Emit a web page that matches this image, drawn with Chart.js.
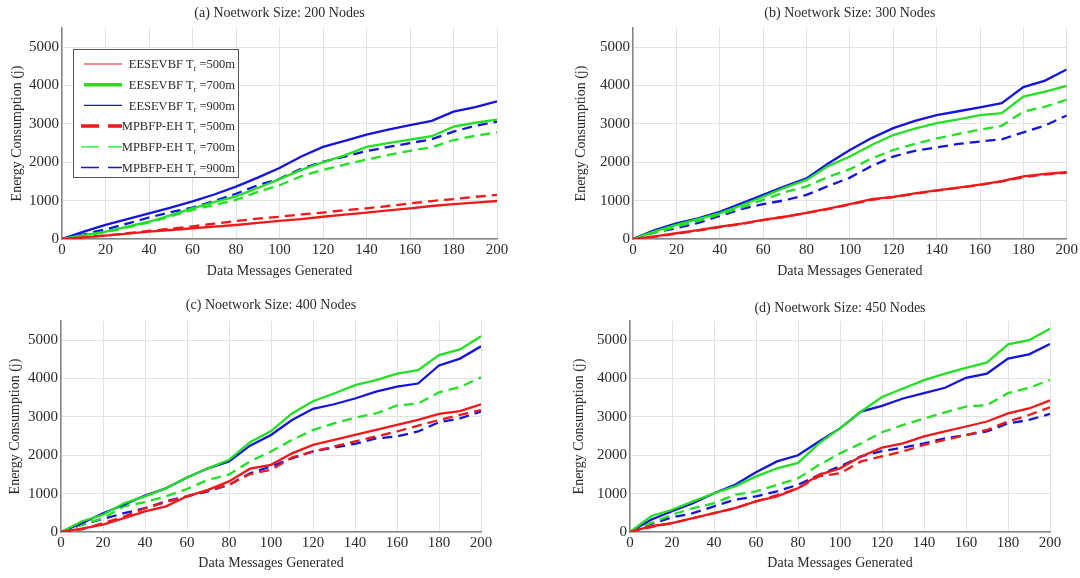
<!DOCTYPE html>
<html>
<head>
<meta charset="utf-8">
<script src="https://cdn.jsdelivr.net/npm/chart.js@4.4.0/dist/chart.umd.min.js"></script>
<style>
  body { margin: 0; background: #fff; }
  #wrap { position: relative; width: 1080px; height: 578px; overflow: hidden; }
  canvas { position: absolute; }
</style>
</head>
<body>
<div id="wrap">
  <canvas id="chartA" width="540" height="290" style="left:0;top:0"></canvas>
  <canvas id="chartB" width="520" height="290" style="left:560px;top:0"></canvas>
  <canvas id="chartC" width="540" height="288" style="left:0;top:290px"></canvas>
  <canvas id="chartD" width="540" height="288" style="left:540px;top:290px"></canvas>
</div>
<script>
// messages generated (x axis), one reading every 10 messages
const msgs = [0, 10, 20, 30, 40, 50, 60, 70, 80, 90, 100, 110, 120, 130, 140, 150, 160, 170, 180, 190, 200];
const energyTicks = [0, 1000, 2000, 3000, 4000, 5000];

// (a) 200 nodes
const a_ees500 = [0, 40, 90, 140, 190, 235, 280, 320, 365, 420, 470, 520, 580, 635, 690, 745, 800, 860, 910, 950, 990];
const a_ees700 = [0, 100, 190, 320, 450, 620, 800, 960, 1110, 1330, 1560, 1800, 2000, 2180, 2400, 2500, 2590, 2680, 2930, 3030, 3110];
const a_ees900 = [0, 190, 370, 520, 670, 820, 980, 1160, 1365, 1600, 1850, 2150, 2400, 2560, 2720, 2850, 2970, 3080, 3320, 3440, 3590];
const a_mpb500 = [0, 45, 90, 150, 210, 270, 330, 400, 470, 530, 580, 640, 690, 750, 800, 860, 930, 990, 1040, 1100, 1150];
const a_mpb700 = [0, 90, 175, 300, 430, 590, 760, 890, 1020, 1230, 1400, 1640, 1800, 1940, 2070, 2190, 2300, 2390, 2580, 2690, 2780];
const a_mpb900 = [0, 120, 250, 400, 560, 700, 820, 990, 1180, 1400, 1570, 1830, 2010, 2150, 2290, 2400, 2500, 2600, 2800, 2950, 3060];

// (b) 300 nodes
const b_ees500 = [0, 70, 150, 230, 320, 400, 500, 580, 680, 790, 910, 1040, 1100, 1190, 1270, 1340, 1420, 1510, 1630, 1700, 1740];
const b_ees700 = [0, 200, 370, 520, 670, 880, 1100, 1340, 1540, 1900, 2150, 2450, 2710, 2880, 3020, 3120, 3230, 3280, 3710, 3840, 3990];
const b_ees900 = [0, 230, 410, 540, 710, 930, 1150, 1370, 1580, 1970, 2320, 2630, 2890, 3080, 3230, 3330, 3430, 3540, 3960, 4130, 4420];
const b_mpb500 = [0, 60, 140, 220, 310, 390, 490, 580, 680, 780, 900, 1020, 1090, 1180, 1260, 1330, 1410, 1500, 1610, 1680, 1730];
const b_mpb700 = [0, 170, 320, 470, 640, 820, 1020, 1220, 1370, 1620, 1820, 2100, 2320, 2480, 2620, 2740, 2850, 2950, 3320, 3450, 3630];
const b_mpb900 = [0, 170, 280, 420, 600, 780, 910, 1010, 1150, 1380, 1600, 1900, 2150, 2300, 2390, 2480, 2540, 2600, 2780, 2960, 3220];

// (c) 400 nodes
const c_ees500 = [0, 90, 190, 360, 540, 670, 930, 1100, 1320, 1650, 1750, 2050, 2270, 2400, 2530, 2660, 2790, 2920, 3080, 3150, 3330];
const c_ees700 = [0, 280, 450, 750, 930, 1140, 1420, 1660, 1880, 2340, 2630, 3090, 3410, 3610, 3830, 3960, 4130, 4220, 4610, 4760, 5100];
const c_ees900 = [0, 230, 490, 710, 950, 1140, 1420, 1660, 1840, 2250, 2530, 2920, 3210, 3330, 3480, 3660, 3790, 3870, 4340, 4520, 4840];
const c_mpb500 = [0, 70, 230, 400, 620, 780, 930, 1080, 1230, 1510, 1620, 1940, 2100, 2230, 2360, 2490, 2620, 2770, 2920, 3050, 3180];
const c_mpb700 = [0, 190, 360, 670, 780, 930, 1120, 1360, 1500, 1840, 2100, 2400, 2660, 2830, 2980, 3090, 3300, 3350, 3640, 3780, 4030];
const c_mpb900 = [0, 190, 340, 490, 620, 800, 930, 1060, 1230, 1530, 1710, 1920, 2100, 2200, 2300, 2440, 2490, 2620, 2860, 2960, 3140];

// (d) 450 nodes
const d_ees500 = [0, 150, 230, 360, 490, 620, 800, 930, 1140, 1490, 1660, 1970, 2200, 2310, 2490, 2620, 2750, 2880, 3090, 3220, 3430];
const d_ees700 = [0, 410, 580, 800, 1010, 1190, 1450, 1660, 1800, 2310, 2700, 3140, 3520, 3740, 3960, 4130, 4280, 4420, 4890, 5000, 5300];
const d_ees900 = [0, 320, 540, 750, 1010, 1230, 1560, 1840, 2000, 2360, 2700, 3140, 3290, 3480, 3620, 3760, 4020, 4130, 4520, 4630, 4900];
const d_mpb500 = [0, 130, 230, 360, 490, 620, 800, 960, 1140, 1450, 1530, 1840, 1970, 2100, 2270, 2400, 2530, 2660, 2880, 3050, 3250];
const d_mpb700 = [0, 230, 450, 620, 750, 970, 1060, 1230, 1400, 1750, 2050, 2310, 2600, 2790, 2960, 3120, 3270, 3310, 3620, 3760, 3960];
const d_mpb900 = [0, 210, 380, 490, 670, 840, 930, 1060, 1230, 1490, 1710, 1970, 2110, 2200, 2310, 2440, 2530, 2620, 2830, 2920, 3080];

// series order: EESEVBF 500/700/900, then MPBFP-EH 500/700/900
const methods = ['EESEVBF', 'EESEVBF', 'EESEVBF', 'MPBFP-EH', 'MPBFP-EH', 'MPBFP-EH'];
const ranges = ['500', '700', '900', '500', '700', '900'];
const lineColors = ['#f01818', '#22e022', '#1414e0', '#f01818', '#22e022', '#1414e0'];
const dashed = [false, false, false, true, true, true];
const keyWidths = [1.2, 3.5, 1.2, 3.5, 1.2, 1.6];

Chart.defaults.font.family = "'Liberation Serif', 'Times New Roman', serif";
Chart.defaults.color = '#2a2a2a';

// white key box with right-aligned labels (subscript r on T)
const keyBox = {
  id: 'keyBox',
  afterDatasetsDraw(chart) {
    const ctx = chart.ctx;
    ctx.save();
    ctx.fillStyle = '#fff';
    ctx.fillRect(73, 49, 165, 128);
    ctx.strokeStyle = '#555';
    ctx.lineWidth = 1;
    ctx.strokeRect(73.5, 49.5, 165, 128);
    for (let i = 0; i < 6; i++) {
      const y = 64 + i * 20.7;
      ctx.strokeStyle = lineColors[i];
      ctx.lineWidth = keyWidths[i];
      ctx.setLineDash(dashed[i] ? [18, 9] : []);
      ctx.beginPath();
      ctx.moveTo(dashed[i] ? 81 : 84, y);
      ctx.lineTo(122, y);
      ctx.stroke();
      ctx.setLineDash([]);

      const main = methods[i] + ' T';
      const sub = 'r';
      const tail = ' =' + ranges[i] + 'm';
      ctx.fillStyle = '#2a2a2a';
      ctx.textBaseline = 'middle';
      ctx.textAlign = 'left';
      ctx.font = "12.5px 'Liberation Serif', serif";
      const wMain = ctx.measureText(main).width;
      const wTail = ctx.measureText(tail).width;
      ctx.font = "8px 'Liberation Serif', serif";
      const wSub = ctx.measureText(sub).width;
      let x = 235 - (wMain + wSub + wTail);
      ctx.font = "12.5px 'Liberation Serif', serif";
      ctx.fillText(main, x, y + 1);
      ctx.font = "8px 'Liberation Serif', serif";
      ctx.fillText(sub, x + wMain, y + 5);
      ctx.font = "12.5px 'Liberation Serif', serif";
      ctx.fillText(tail, x + wMain + wSub, y + 1);
    }
    ctx.restore();
  }
};

function makeChart(id, g, titleText, series, extra) {
  const datasets = series.map((vals, i) => ({
    label: methods[i] + ' Tr =' + ranges[i] + 'm',
    data: msgs.map((m, k) => ({ x: m, y: vals[k] })),
    borderColor: lineColors[i],
    borderWidth: 2.3,
    borderDash: dashed[i] ? [10, 6] : [],
    pointRadius: 0,
    fill: false,
    tension: 0
  }));

  return new Chart(document.getElementById(id), {
    type: 'line',
    data: { datasets },
    options: {
      responsive: false,
      animation: false,
      devicePixelRatio: 1,
      layout: { padding: { left: 0, top: 0, bottom: 0, right: g.w - g.r } },
      plugins: {
        legend: { display: false },
        tooltip: { enabled: false },
        title: {
          display: true,
          text: titleText,
          fullSize: false,
          color: '#2a2a2a',
          font: { size: 14, weight: 'normal' },
          padding: { top: g.titleY - 8.4, bottom: g.t - g.titleY - 8.4 }
        }
      },
      scales: {
        x: {
          type: 'linear',
          min: 0,
          max: 200,
          ticks: { stepSize: 20, font: { size: 15 }, padding: 2, maxRotation: 0, autoSkip: false, callback: v => String(v) },
          grid: { color: '#e2e2e2', drawTicks: false },
          border: { color: '#858585', width: 1.5 },
          title: {
            display: true,
            text: 'Data Messages Generated',
            font: { size: 14 },
            padding: { top: 0, bottom: g.h - g.xTitleY - 8.4 }
          },
          afterFit: s => { s.height = g.h - g.b; }
        },
        y: {
          type: 'linear',
          min: 0,
          max: 5500,
          afterBuildTicks: s => { s.ticks = energyTicks.map(v => ({ value: v })); },
          ticks: { autoSkip: false, font: { size: 15 }, padding: 3, callback: v => String(v) },
          grid: { color: '#e2e2e2', drawTicks: false },
          border: { color: '#858585', width: 1.5 },
          title: {
            display: true,
            text: 'Energy Consumption (j)',
            font: { size: 14 },
            padding: { top: g.yTitleX - 8.4, bottom: 0 }
          },
          afterFit: s => { s.width = g.l; }
        }
      }
    },
    plugins: extra || []
  });
}

makeChart('chartA', { w: 540, h: 290, l: 62, r: 497, t: 28, b: 239, titleY: 13, yTitleX: 17, xTitleY: 271 },
  '(a) Noetwork Size: 200 Nodes', [a_ees500, a_ees700, a_ees900, a_mpb500, a_mpb700, a_mpb900], [keyBox]);
makeChart('chartB', { w: 520, h: 290, l: 73, r: 507, t: 28, b: 239, titleY: 13, yTitleX: 21, xTitleY: 271 },
  '(b) Noetwork Size: 300 Nodes', [b_ees500, b_ees700, b_ees900, b_mpb500, b_mpb700, b_mpb900]);
makeChart('chartC', { w: 540, h: 288, l: 61, r: 481, t: 31, b: 242, titleY: 15, yTitleX: 15, xTitleY: 273 },
  '(c) Noetwork Size: 400 Nodes', [c_ees500, c_ees700, c_ees900, c_mpb500, c_mpb700, c_mpb900]);
makeChart('chartD', { w: 540, h: 288, l: 90, r: 510, t: 31, b: 242, titleY: 18, yTitleX: 39, xTitleY: 273 },
  '(d) Noetwork Size: 450 Nodes', [d_ees500, d_ees700, d_ees900, d_mpb500, d_mpb700, d_mpb900]);
</script>
</body>
</html>
